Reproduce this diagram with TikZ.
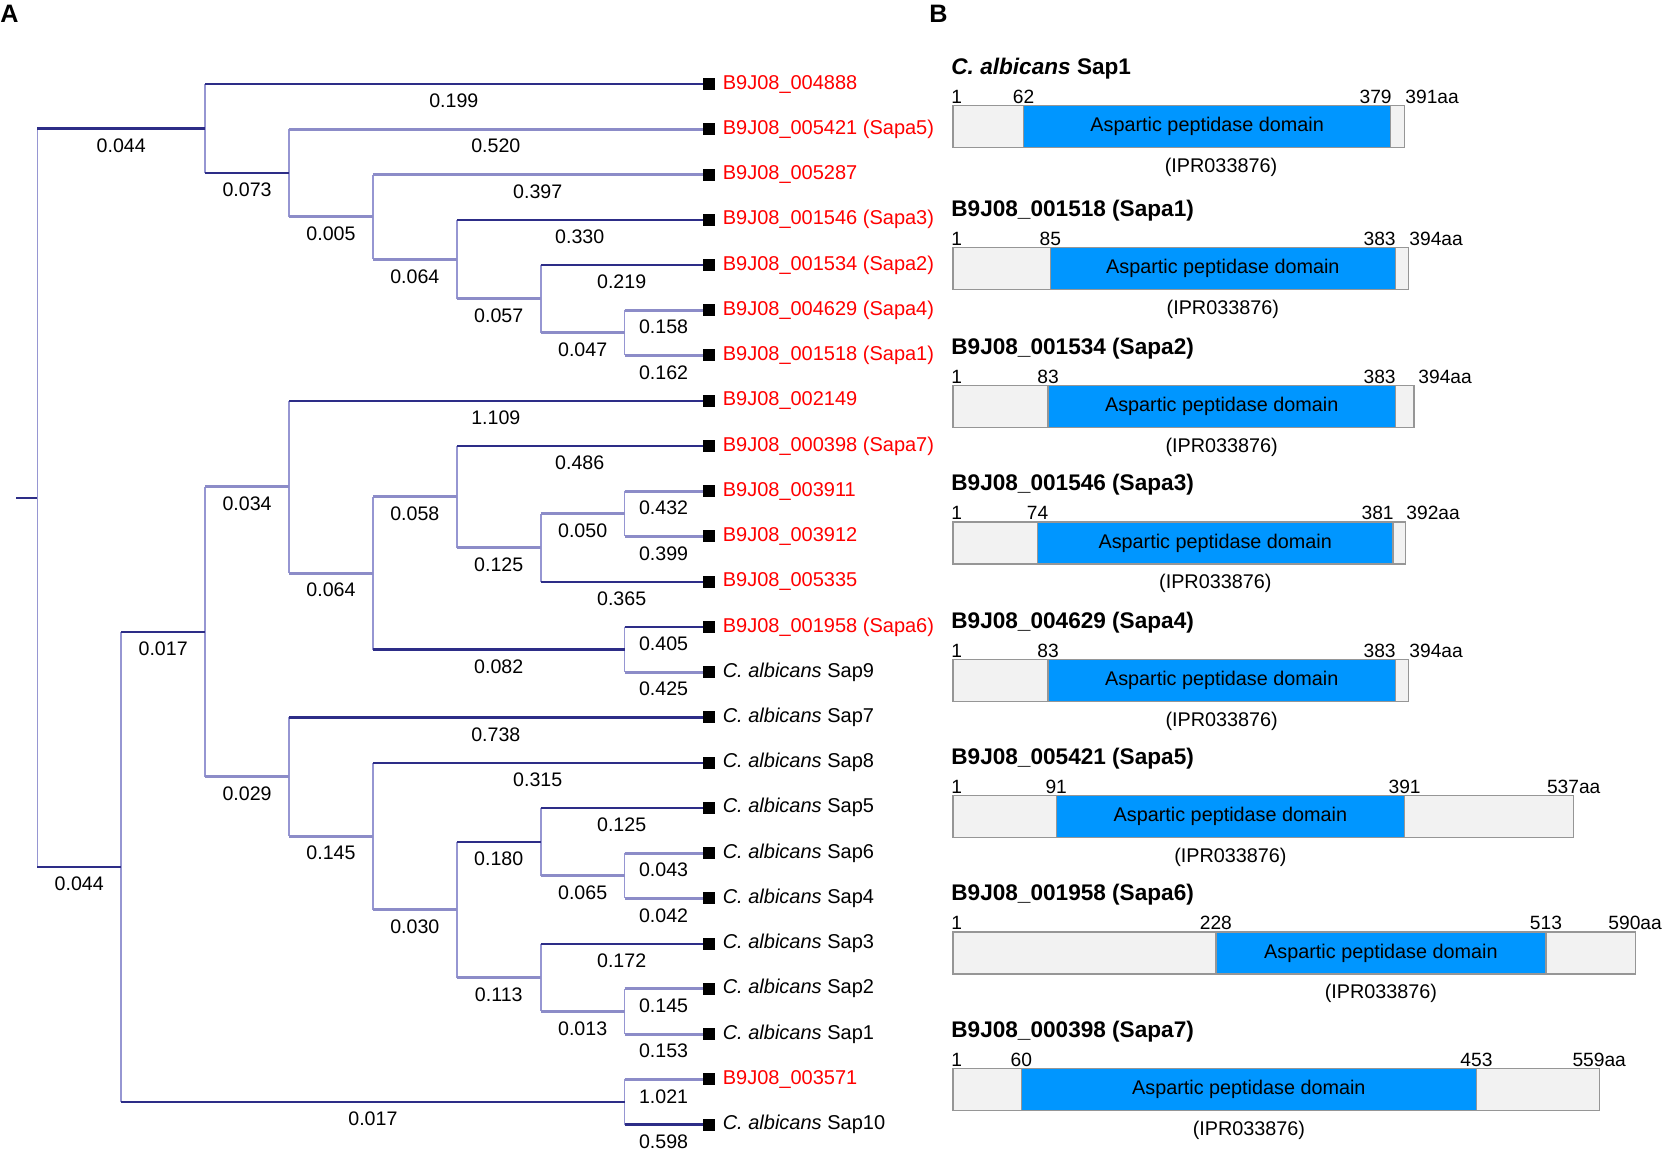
\documentclass[tikz,border=0pt]{standalone}
\usepackage{fontspec}
\setmainfont{Liberation Sans}
\usetikzlibrary{calc}

\begin{document}
\begin{tikzpicture}[x=0.5pt,y=-0.5pt,
  dk/.style={draw={rgb,255:red,45;green,45;blue,135},line width=1.1pt},
  lt/.style={draw={rgb,255:red,140;green,140;blue,200},line width=1.5pt},
  vl/.style={draw={rgb,255:red,150;green,150;blue,210},line width=0.8pt},
  bl/.style={font=\fontsize{9.8}{11}\selectfont,yshift=-8.5pt,inner sep=0pt},
  sq/.style={fill=black,minimum size=6pt,inner sep=0pt},
  nm/.style={anchor=west,xshift=3.5pt,inner sep=0pt,font=\fontsize{10}{12}\selectfont},
  pl/.style={anchor=north west,inner sep=0pt,font=\fontsize{12.6}{14}\selectfont\bfseries},
  ttl/.style={anchor=base west,inner sep=0pt,font=\fontsize{11.3}{13}\selectfont\bfseries},
  num/.style={anchor=base,inner sep=0pt,font=\fontsize{9.6}{11}\selectfont},
  dt/.style={inner sep=0pt,font=\fontsize{9.9}{11}\selectfont},
  bx/.style={draw={rgb,255:red,150;green,150;blue,150},fill={rgb,255:red,242;green,242;blue,242},line width=0.6pt},
  dom/.style={draw={rgb,255:red,150;green,150;blue,150},fill={rgb,255:red,0;green,150;blue,255},line width=0.6pt}]
\useasboundingbox (0,0) rectangle (1670,1153);

\node[pl] (pa) at (0,5) {A};
\node[pl] (pb) at (929,5) {B};

\coordinate (r0) at (16,497.7);
\coordinate (root) at (37.3,497.7);
\coordinate (A) at (205.1,128.5);
\coordinate (C) at (289.0,173.1);
\coordinate (D) at (372.9,216.9);
\coordinate (E) at (456.8,259.3);
\coordinate (F) at (540.7,298.9);
\coordinate (G) at (624.6,332.8);
\coordinate (B) at (121.2,866.9);
\coordinate (H) at (205.1,631.8);
\coordinate (I) at (289.0,486.9);
\coordinate (K) at (372.9,573.2);
\coordinate (L) at (456.8,496.8);
\coordinate (N) at (540.7,547.7);
\coordinate (O) at (624.6,513.8);
\coordinate (M) at (624.6,649.5);
\coordinate (J) at (289.0,776.8);
\coordinate (P) at (372.9,836.1);
\coordinate (Q) at (456.8,909.6);
\coordinate (R) at (540.7,841.8);
\coordinate (T) at (624.6,875.7);
\coordinate (S) at (540.7,977.5);
\coordinate (U) at (624.6,1011.4);
\coordinate (X) at (624.6,1101.9);

\node[sq] (s0) at (709,84.0) {};
\node[sq] (s1) at (709,129.2) {};
\node[sq] (s2) at (709,174.5) {};
\node[sq] (s3) at (709,219.7) {};
\node[sq] (s4) at (709,265.0) {};
\node[sq] (s5) at (709,310.2) {};
\node[sq] (s6) at (709,355.4) {};
\node[sq] (s7) at (709,400.7) {};
\node[sq] (s8) at (709,445.9) {};
\node[sq] (s9) at (709,491.2) {};
\node[sq] (s10) at (709,536.4) {};
\node[sq] (s11) at (709,581.6) {};
\node[sq] (s12) at (709,626.9) {};
\node[sq] (s13) at (709,672.1) {};
\node[sq] (s14) at (709,717.4) {};
\node[sq] (s15) at (709,762.6) {};
\node[sq] (s16) at (709,807.8) {};
\node[sq] (s17) at (709,853.1) {};
\node[sq] (s18) at (709,898.3) {};
\node[sq] (s19) at (709,943.6) {};
\node[sq] (s20) at (709,988.8) {};
\node[sq] (s21) at (709,1034.0) {};
\node[sq] (s22) at (709,1079.3) {};
\node[sq] (s23) at (709,1124.5) {};

\node[nm,red] (t0) at (s0.east) {B9J08\_004888};
\node[nm,red] (t1) at (s1.east) {B9J08\_005421 (Sapa5)};
\node[nm,red] (t2) at (s2.east) {B9J08\_005287};
\node[nm,red] (t3) at (s3.east) {B9J08\_001546 (Sapa3)};
\node[nm,red] (t4) at (s4.east) {B9J08\_001534 (Sapa2)};
\node[nm,red] (t5) at (s5.east) {B9J08\_004629 (Sapa4)};
\node[nm,red] (t6) at (s6.east) {B9J08\_001518 (Sapa1)};
\node[nm,red] (t7) at (s7.east) {B9J08\_002149};
\node[nm,red] (t8) at (s8.east) {B9J08\_000398 (Sapa7)};
\node[nm,red] (t9) at (s9.east) {B9J08\_003911};
\node[nm,red] (t10) at (s10.east) {B9J08\_003912};
\node[nm,red] (t11) at (s11.east) {B9J08\_005335};
\node[nm,red] (t12) at (s12.east) {B9J08\_001958 (Sapa6)};
\node[nm] (t13) at (s13.east) {\textit{C. albicans} Sap9};
\node[nm] (t14) at (s14.east) {\textit{C. albicans} Sap7};
\node[nm] (t15) at (s15.east) {\textit{C. albicans} Sap8};
\node[nm] (t16) at (s16.east) {\textit{C. albicans} Sap5};
\node[nm] (t17) at (s17.east) {\textit{C. albicans} Sap6};
\node[nm] (t18) at (s18.east) {\textit{C. albicans} Sap4};
\node[nm] (t19) at (s19.east) {\textit{C. albicans} Sap3};
\node[nm] (t20) at (s20.east) {\textit{C. albicans} Sap2};
\node[nm] (t21) at (s21.east) {\textit{C. albicans} Sap1};
\node[nm,red] (t22) at (s22.east) {B9J08\_003571};
\node[nm] (t23) at (s23.east) {\textit{C. albicans} Sap10};

\draw[vl] (root|-A) -- (root|-B);
\draw[vl] (A|-s0) -- (A|-C);
\draw[vl] (C|-s1) -- (C|-D);
\draw[vl] (D|-s2) -- (D|-E);
\draw[vl] (E|-s3) -- (E|-F);
\draw[vl] (F|-s4) -- (F|-G);
\draw[vl] (G|-s5) -- (G|-s6);
\draw[vl] (B|-H) -- (B|-X);
\draw[vl] (H|-I) -- (H|-J);
\draw[vl] (I|-s7) -- (I|-K);
\draw[vl] (K|-L) -- (K|-M);
\draw[vl] (L|-s8) -- (L|-N);
\draw[vl] (N|-O) -- (N|-s11);
\draw[vl] (O|-s9) -- (O|-s10);
\draw[vl] (M|-s12) -- (M|-s13);
\draw[vl] (J|-s14) -- (J|-P);
\draw[vl] (P|-s15) -- (P|-Q);
\draw[vl] (Q|-R) -- (Q|-S);
\draw[vl] (R|-s16) -- (R|-T);
\draw[vl] (T|-s17) -- (T|-s18);
\draw[vl] (S|-s19) -- (S|-U);
\draw[vl] (U|-s20) -- (U|-s21);
\draw[vl] (X|-s22) -- (X|-s23);

\draw[dk] (r0) -- (root);
\draw[dk] (root|-A) -- node[bl]{0.044} (A);
\draw[dk] (A|-s0) -- node[bl]{0.199} (s0);
\draw[dk] (A|-C) -- node[bl]{0.073} (C);
\draw[lt] (C|-s1) -- node[bl]{0.520} (s1);
\draw[lt] (C|-D) -- node[bl]{0.005} (D);
\draw[lt] (D|-s2) -- node[bl]{0.397} (s2);
\draw[lt] (D|-E) -- node[bl]{0.064} (E);
\draw[dk] (E|-s3) -- node[bl]{0.330} (s3);
\draw[lt] (E|-F) -- node[bl]{0.057} (F);
\draw[dk] (F|-s4) -- node[bl]{0.219} (s4);
\draw[lt] (F|-G) -- node[bl]{0.047} (G);
\draw[lt] (G|-s5) -- node[bl]{0.158} (s5);
\draw[lt] (G|-s6) -- node[bl]{0.162} (s6);
\draw[dk] (root|-B) -- node[bl]{0.044} (B);
\draw[dk] (B|-H) -- node[bl]{0.017} (H);
\draw[dk] (B|-X) -- node[bl]{0.017} (X);
\draw[lt] (H|-I) -- node[bl]{0.034} (I);
\draw[lt] (H|-J) -- node[bl]{0.029} (J);
\draw[dk] (I|-s7) -- node[bl]{1.109} (s7);
\draw[lt] (I|-K) -- node[bl]{0.064} (K);
\draw[lt] (K|-L) -- node[bl]{0.058} (L);
\draw[dk] (K|-M) -- node[bl]{0.082} (M);
\draw[dk] (L|-s8) -- node[bl]{0.486} (s8);
\draw[lt] (L|-N) -- node[bl]{0.125} (N);
\draw[lt] (N|-O) -- node[bl]{0.050} (O);
\draw[dk] (N|-s11) -- node[bl]{0.365} (s11);
\draw[lt] (O|-s9) -- node[bl]{0.432} (s9);
\draw[lt] (O|-s10) -- node[bl]{0.399} (s10);
\draw[dk] (M|-s12) -- node[bl]{0.405} (s12);
\draw[lt] (M|-s13) -- node[bl]{0.425} (s13);
\draw[dk] (J|-s14) -- node[bl]{0.738} (s14);
\draw[lt] (J|-P) -- node[bl]{0.145} (P);
\draw[dk] (P|-s15) -- node[bl]{0.315} (s15);
\draw[lt] (P|-Q) -- node[bl]{0.030} (Q);
\draw[dk] (Q|-R) -- node[bl]{0.180} (R);
\draw[lt] (Q|-S) -- node[bl]{0.113} (S);
\draw[dk] (R|-s16) -- node[bl]{0.125} (s16);
\draw[lt] (R|-T) -- node[bl]{0.065} (T);
\draw[lt] (T|-s17) -- node[bl]{0.043} (s17);
\draw[lt] (T|-s18) -- node[bl]{0.042} (s18);
\draw[dk] (S|-s19) -- node[bl]{0.172} (s19);
\draw[lt] (S|-U) -- node[bl]{0.013} (U);
\draw[lt] (U|-s20) -- node[bl]{0.145} (s20);
\draw[lt] (U|-s21) -- node[bl]{0.153} (s21);
\draw[lt] (X|-s22) -- node[bl]{1.021} (s22);
\draw[dk] (X|-s23) -- node[bl]{0.598} (s23);

\node[ttl] (h1) at (951,74.7) {\textit{C. albicans} Sap1};
\draw[bx] (953,105.7) rectangle (1404.6,147.7);
\draw[dom] (1023.6,105.7) rectangle (1390.7,147.7);
\node[dt] (d1) at ($(1023.6,105.7)!.5!(1390.7,147.7)$) {Aspartic peptidase domain};
\node[num,anchor=base west] (a1) at (951,103.7) {1};
\node[num] (b1) at (1023.6,103.7) {62};
\node[num,anchor=base east] (e1) at (1392,103.7) {379};
\node[num,anchor=base west] (z1) at (1405,103.7) {391aa};
\node[dt] (i1) at (1221,167.5) {(IPR033876)};

\node[ttl] (h2) at (951,216.7) {B9J08\_001518 (Sapa1)};
\draw[bx] (953,247.7) rectangle (1408.1,289.7);
\draw[dom] (1050.3,247.7) rectangle (1395.4,289.7);
\node[dt] (d2) at ($(1050.3,247.7)!.5!(1395.4,289.7)$) {Aspartic peptidase domain};
\node[num,anchor=base west] (a2) at (951,245.7) {1};
\node[num] (b2) at (1050.3,245.7) {85};
\node[num,anchor=base east] (e2) at (1396,245.7) {383};
\node[num,anchor=base west] (z2) at (1409,245.7) {394aa};
\node[dt] (i2) at (1222.8,309.5) {(IPR033876)};

\node[ttl] (h3) at (951,354.5) {B9J08\_001534 (Sapa2)};
\draw[bx] (953,385.5) rectangle (1414,427.5);
\draw[dom] (1048.0,385.5) rectangle (1395.4,427.5);
\node[dt] (d3) at ($(1048.0,385.5)!.5!(1395.4,427.5)$) {Aspartic peptidase domain};
\node[num,anchor=base west] (a3) at (951,383.5) {1};
\node[num] (b3) at (1048.0,383.5) {83};
\node[num,anchor=base east] (e3) at (1396,383.5) {383};
\node[num,anchor=base west] (z3) at (1418,383.5) {394aa};
\node[dt] (i3) at (1221.7,447.3) {(IPR033876)};

\node[ttl] (h4) at (951,490.9) {B9J08\_001546 (Sapa3)};
\draw[bx] (953,521.9) rectangle (1405.8,563.9);
\draw[dom] (1037.5,521.9) rectangle (1393.0,563.9);
\node[dt] (d4) at ($(1037.5,521.9)!.5!(1393.0,563.9)$) {Aspartic peptidase domain};
\node[num,anchor=base west] (a4) at (951,519.9) {1};
\node[num] (b4) at (1037.5,519.9) {74};
\node[num,anchor=base east] (e4) at (1394,519.9) {381};
\node[num,anchor=base west] (z4) at (1406,519.9) {392aa};
\node[dt] (i4) at (1215.3,583.7) {(IPR033876)};

\node[ttl] (h5) at (951,628.2) {B9J08\_004629 (Sapa4)};
\draw[bx] (953,659.2) rectangle (1408.1,701.2);
\draw[dom] (1048.0,659.2) rectangle (1395.4,701.2);
\node[dt] (d5) at ($(1048.0,659.2)!.5!(1395.4,701.2)$) {Aspartic peptidase domain};
\node[num,anchor=base west] (a5) at (951,657.2) {1};
\node[num] (b5) at (1048.0,657.2) {83};
\node[num,anchor=base east] (e5) at (1396,657.2) {383};
\node[num,anchor=base west] (z5) at (1409,657.2) {394aa};
\node[dt] (i5) at (1221.7,721.0) {(IPR033876)};

\node[ttl] (h6) at (951,764.6) {B9J08\_005421 (Sapa5)};
\draw[bx] (953,795.6) rectangle (1573.7,837.6);
\draw[dom] (1056.2,795.6) rectangle (1404.6,837.6);
\node[dt] (d6) at ($(1056.2,795.6)!.5!(1404.6,837.6)$) {Aspartic peptidase domain};
\node[num,anchor=base west] (a6) at (951,793.6) {1};
\node[num] (b6) at (1056.2,793.6) {91};
\node[num] (e6) at (1404.6,793.6) {391};
\node[num] (z6) at (1573.7,793.6) {537aa};
\node[dt] (i6) at (1230.4,857.4) {(IPR033876)};

\node[ttl] (h7) at (951,900.9) {B9J08\_001958 (Sapa6)};
\draw[bx] (953,931.9) rectangle (1635.1,973.9);
\draw[dom] (1215.9,931.9) rectangle (1545.9,973.9);
\node[dt] (d7) at ($(1215.9,931.9)!.5!(1545.9,973.9)$) {Aspartic peptidase domain};
\node[num,anchor=base west] (a7) at (951,929.9) {1};
\node[num] (b7) at (1215.9,929.9) {228};
\node[num] (e7) at (1545.9,929.9) {513};
\node[num] (z7) at (1635.1,929.9) {590aa};
\node[dt] (i7) at (1380.9,993.7) {(IPR033876)};

\node[ttl] (h8) at (951,1037.2) {B9J08\_000398 (Sapa7)};
\draw[bx] (953,1068.2) rectangle (1599.2,1110.2);
\draw[dom] (1021.3,1068.2) rectangle (1476.4,1110.2);
\node[dt] (d8) at ($(1021.3,1068.2)!.5!(1476.4,1110.2)$) {Aspartic peptidase domain};
\node[num,anchor=base west] (a8) at (951,1066.2) {1};
\node[num] (b8) at (1021.3,1066.2) {60};
\node[num] (e8) at (1476.4,1066.2) {453};
\node[num] (z8) at (1599.2,1066.2) {559aa};
\node[dt] (i8) at (1248.9,1130.0) {(IPR033876)};
\end{tikzpicture}
\end{document}
